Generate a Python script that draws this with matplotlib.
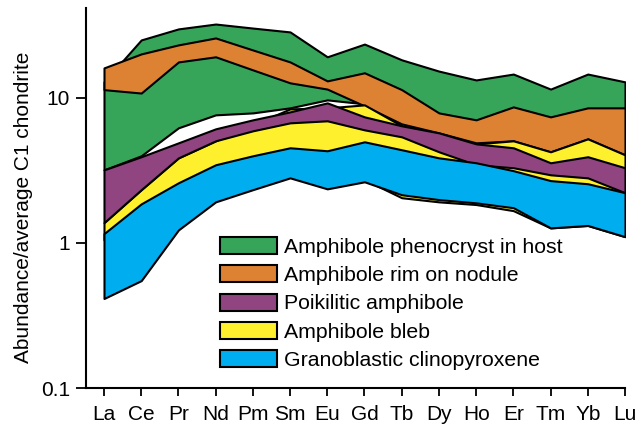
import numpy as np
import matplotlib
matplotlib.use("Agg")
import matplotlib.pyplot as plt

plt.rcParams['font.family'] = ['Liberation Sans', 'DejaVu Sans']

elements = ['La', 'Ce', 'Pr', 'Nd', 'Pm', 'Sm', 'Eu', 'Gd', 'Tb', 'Dy', 'Ho', 'Er', 'Tm', 'Yb', 'Lu']

# chondrite-normalised ranges (upper / lower edge of each field)
pheno_hi = [12.9, 25.1, 29.9, 32.3, 30.3, 28.5, 19.2, 23.5, 18.3, 15.3, 13.3, 14.6, 11.5, 14.6, 12.9]
pheno_lo = [3.19, 3.99, 6.22, 7.64, 7.88, 8.54, 9.69, 9.10, 8.27, 7.06, 6.02, 6.52, 5.56, 6.52, 6.02]

rim_hi = [16.1, 20.1, 23.2, 25.9, 21.4, 17.7, 13.1, 14.9, 11.4, 7.88, 7.06, 8.67, 7.40, 8.54, 8.54]
rim_lo = [11.4, 10.8, 17.7, 19.2, 15.6, 12.7, 11.5, 8.81, 6.62, 5.74, 4.90, 5.06, 4.25, 5.22, 4.05]

bleb_hi = [1.38, 2.33, 3.86, 5.06, 6.52, 8.40, 8.54, 8.95, 6.42, 5.56, 4.82, 5.06, 4.25, 5.22, 4.05]
bleb_lo = [1.05, 1.57, 2.15, 2.73, 2.73, 2.95, 2.64, 2.73, 2.05, 1.92, 1.84, 1.67, 1.27, 1.32, 1.105]

poik_hi = [3.19, 3.93, 4.90, 6.12, 7.06, 8.01, 9.24, 7.40, 6.42, 5.74, 4.82, 4.53, 3.57, 3.93, 3.30]
poik_lo = [1.38, 2.33, 3.86, 5.06, 5.93, 6.73, 6.95, 6.02, 5.39, 4.25, 3.46, 3.30, 2.95, 2.81, 2.22]

cpx_hi = [1.16, 1.86, 2.60, 3.46, 3.99, 4.53, 4.32, 4.98, 4.39, 3.86, 3.57, 3.15, 2.69, 2.56, 2.22]
cpx_lo = [0.414, 0.550, 1.23, 1.92, 2.33, 2.81, 2.36, 2.64, 2.15, 1.99, 1.89, 1.75, 1.27, 1.32, 1.105]

x = np.arange(len(elements))

fig = plt.figure(figsize=(6.36, 4.26), dpi=100)
ax = fig.add_axes([0.1352, 0.0892, 0.8475, 0.8918])

lw = 1.5
g = ax.fill_between(x, pheno_lo, pheno_hi, facecolor='#36a55a', edgecolor='black', linewidth=lw,
                    label='Amphibole phenocryst in host')
o = ax.fill_between(x, rim_lo, rim_hi, facecolor='#dd8233', edgecolor='black', linewidth=lw,
                    label='Amphibole rim on nodule')
y = ax.fill_between(x, bleb_lo, bleb_hi, facecolor='#fff02d', edgecolor='black', linewidth=lw,
                    label='Amphibole bleb')
p = ax.fill_between(x, poik_lo, poik_hi, facecolor='#904580', edgecolor='black', linewidth=lw,
                    label='Poikilitic amphibole')
b = ax.fill_between(x, cpx_lo, cpx_hi, facecolor='#00aeef', edgecolor='black', linewidth=lw,
                    label='Granoblastic clinopyroxene')

ax.set_yscale('log')
ax.set_ylim(0.1, 41.6)
ax.set_xlim(-0.484, 14)
ax.set_yticks([0.1, 1, 10])
ax.set_yticklabels(['0.1', '1', '10'])
ax.yaxis.set_minor_locator(matplotlib.ticker.NullLocator())
ax.set_xticks(x)
ax.set_xticklabels(elements)
ax.tick_params(axis='both', labelsize=15, width=1.3, direction='out')
ax.tick_params(axis='y', length=7, pad=4.5)
ax.tick_params(axis='x', length=6, pad=6)
ax.set_ylabel('Abundance/average C1 chondrite', fontsize=15)
ax.yaxis.set_label_coords(-0.098, 0.476)

for s in ['top', 'right']:
    ax.spines[s].set_visible(False)
for s in ['left', 'bottom']:
    ax.spines[s].set_linewidth(1.5)

leg = fig.legend(handles=[g, o, p, y, b], loc='upper left', bbox_to_anchor=(220 / 636, 1 - 237 / 426),
                 frameon=False, fontsize=15.3, handlelength=2.7, handleheight=0.85,
                 handletextpad=0.3, labelspacing=0.4, borderpad=0, borderaxespad=0)

plt.savefig('out.png', dpi=100)
